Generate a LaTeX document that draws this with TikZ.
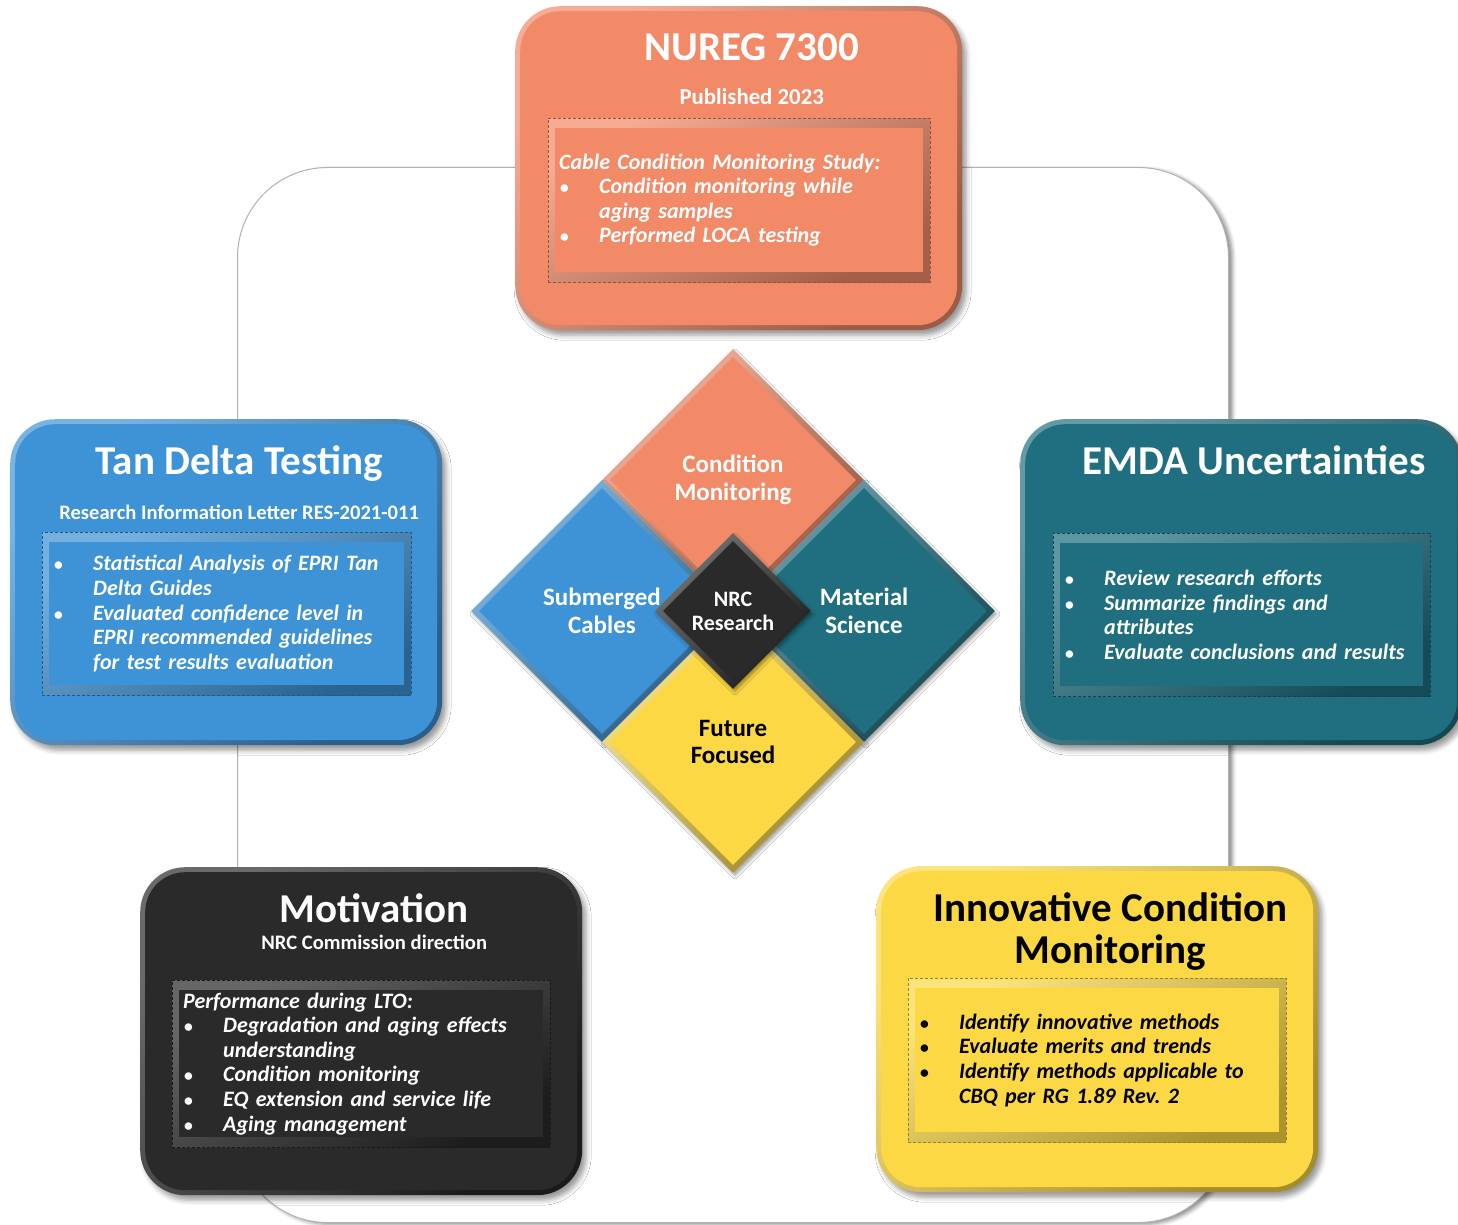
\documentclass[tikz,border=0pt]{standalone}
\usepackage{fontspec}
\setmainfont{Carlito}
\usepackage{tikz}
\usetikzlibrary{shapes.geometric,shadows.blur,positioning}
\frenchspacing

\definecolor{cmOrange}{HTML}{F28A68}
\definecolor{cmBlue}{HTML}{3E92D6}
\definecolor{cmTeal}{HTML}{1F6F80}
\definecolor{cmDark}{HTML}{2A2A2A}
\definecolor{cmYellow}{HTML}{FCD944}

% bullet line with hanging indent
\newcommand{\bul}[1]{\hangindent=40pt\hangafter=1\noindent
  \makebox[40pt][l]{\hspace{1pt}\upshape\scalebox{.8}{\textbullet}}#1\par}

\tikzset{
  frame/.style={draw=gray!60, line width=1pt, fill=white, rounded corners=90pt,
    blur shadow={shadow xshift=4pt, shadow yshift=-2pt, shadow blur radius=4pt, shadow opacity=45}},
  card/.style={anchor=north west, inner sep=0pt, rounded corners=45pt,
    shading=axis, top color=#1!70!white, bottom color=#1!65!black, shading angle=45,
    blur shadow={shadow xshift=4pt, shadow yshift=-5pt, shadow blur radius=5pt, shadow opacity=40},
    path picture={\fill[#1, rounded corners=40pt]
      ([shift={(5pt,5pt)}]path picture bounding box.south west) rectangle
      ([shift={(-5pt,-5pt)}]path picture bounding box.north east);}},
  panel/.style={anchor=north west, inner xsep=11pt, inner ysep=0pt, align=left,
    font=\fontsize{22}{24.6}\selectfont\bfseries\itshape, text=white,
    shading=axis, top color=#1!72!white, bottom color=#1!68!black, shading angle=30,
    path picture={\fill[#1]
      ([shift={(7pt,10pt)}]path picture bounding box.south west) rectangle
      ([shift={(-7pt,-10pt)}]path picture bounding box.north east);},
    postaction={draw=#1!60!black, densely dashed, line width=.5pt}},
  title/.style={anchor=base, font=\fontsize{41}{42}\selectfont\bfseries, text=white},
  subtitle/.style={anchor=base, font=\fontsize{20.6}{24}\selectfont\bfseries, text=white},
  facet/.style={shape=diamond, minimum width=262pt, minimum height=262pt, inner sep=0pt,
    align=center, font=\fontsize{25}{27.5}\selectfont\bfseries, text=white,
    shading=axis, top color=#1!65!white, bottom color=#1!62!black, shading angle=45,
    blur shadow={shadow xshift=2pt, shadow yshift=-3pt, shadow blur radius=3pt, shadow opacity=35},
    path picture={\fill[#1]
      ([yshift=-8pt]path picture bounding box.north) --
      ([xshift=-8pt]path picture bounding box.east) --
      ([yshift=8pt]path picture bounding box.south) --
      ([xshift=8pt]path picture bounding box.west) -- cycle;}},
}

\begin{document}
\begin{tikzpicture}[x=1pt,y=-1pt]
\useasboundingbox (0,0) rectangle (1458,1225);

% frame behind everything
\node[frame, anchor=north west, minimum width=991pt, minimum height=1055pt] (frame) at (237,167) {};

% cards
\node[card=cmOrange, minimum width=447pt, minimum height=324pt] (nureg) at (515,6) {};
\node[card=cmBlue, minimum width=432pt, minimum height=326pt] (tandelta) at (10,419) {};
\node[card=cmTeal, minimum width=442pt, minimum height=326pt] (emda) at (1020,419) {};
\node[card=cmDark, minimum width=442pt, minimum height=328pt] (motiv) at (140,867) {};
\node[card=cmYellow, minimum width=442pt, minimum height=326pt] (innov) at (876,866) {};

% NUREG 7300
\node[title] (nureg-t) at ([xshift=13pt,yshift=-55pt]nureg.north) {NUREG 7300};
\node[subtitle, font=\fontsize{22.8}{24}\selectfont\bfseries] (nureg-s) at ([xshift=13pt,yshift=-99pt]nureg.north) {Published 2023};
\node[panel=cmOrange, text width=360pt, minimum height=164pt] (nureg-p)
  at ([xshift=33pt,yshift=-112pt]nureg.north west)
  {Cable Condition Monitoring Study:\par
   \bul{Condition monitoring while\newline aging samples}
   \bul{Performed LOCA testing}};

% Tan Delta
\node[title] (tandelta-t) at ([xshift=13pt,yshift=-55pt]tandelta.north) {Tan Delta Testing};
\node[subtitle] (tandelta-s) at ([xshift=13pt,yshift=-100pt]tandelta.north) {Research Information Letter RES-2021-011};
\node[panel=cmBlue, text width=347pt, minimum height=163pt] (tandelta-p)
  at ([xshift=32pt,yshift=-113pt]tandelta.north west)
  {\bul{Statistical Analysis of EPRI Tan\newline Delta Guides}
   \bul{Evaluated confidence level in\newline EPRI recommended guidelines\newline for test results evaluation}};

% EMDA
\node[title] (emda-t) at ([xshift=13pt,yshift=-55pt]emda.north) {EMDA Uncertainties};
\node[panel=cmTeal, text width=355pt, minimum height=163pt] (emda-p)
  at ([xshift=33pt,yshift=-114pt]emda.north west)
  {\bul{Review research efforts}
   \bul{Summarize findings and\newline attributes}
   \bul{Evaluate conclusions and results}};

% Motivation
\node[title] (motiv-t) at ([xshift=13pt,yshift=-55pt]motiv.north) {Motivation};
\node[subtitle] (motiv-s) at ([xshift=13pt,yshift=-82pt]motiv.north) {NRC Commission direction};
\node[panel=cmDark, text width=356pt, minimum height=167pt] (motiv-p)
  at ([xshift=32pt,yshift=-113pt]motiv.north west)
  {Performance during LTO:\par
   \bul{Degradation and aging effects\newline understanding}
   \bul{Condition monitoring}
   \bul{EQ extension and service life}
   \bul{Aging management}};

% Innovative CM (base = last line)
\node[title, text=black, align=center, font=\fontsize{41}{42}\selectfont\bfseries] (innov-t)
  at ([xshift=13pt,yshift=-97pt]innov.north) {Innovative Condition\\Monitoring};
\node[panel=cmYellow, text=black, text width=356pt, minimum height=164pt] (innov-p)
  at ([xshift=32pt,yshift=-112pt]innov.north west)
  {\bul{Identify innovative methods}
   \bul{Evaluate merits and trends}
   \bul{Identify methods applicable to\newline CBQ per RG 1.89 Rev. 2}};

% centre diamond
\node[facet=cmOrange] (cm) at (733,480) {Condition\\Monitoring};
\node[facet=cmBlue] (sub) at (602,611) {Submerged\\Cables};
\node[facet=cmTeal] (mat) at (864,611) {Material\\Science};
\node[facet=cmYellow, text=black] (fut) at (733,742) {Future\\Focused};
\node[facet=cmDark, minimum width=156pt, minimum height=156pt,
  font=\fontsize{22}{24}\selectfont\bfseries] (nrc) at (733,611) {NRC\\Research};
\end{tikzpicture}
\end{document}
